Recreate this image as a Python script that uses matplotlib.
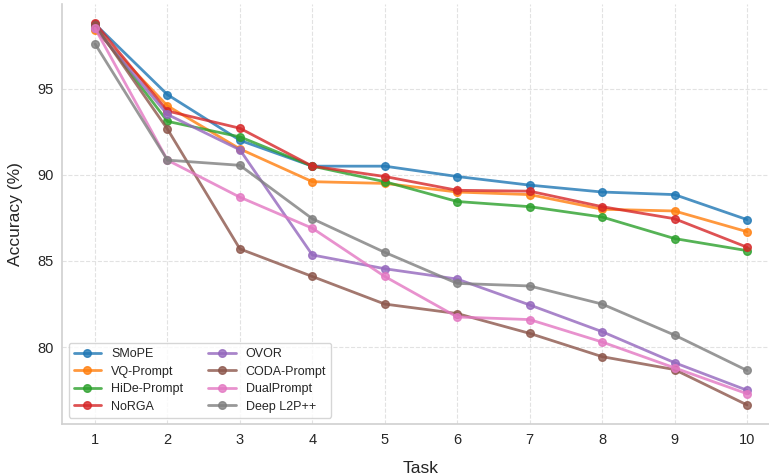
import numpy as np
import matplotlib.pyplot as plt
import seaborn as sns

tasks = list(range(1, 11))

smope = [98.75, 94.65, 92.0, 90.5, 90.5, 89.9, 89.4, 89.0, 88.85, 87.4]
vq_prompt = [98.4, 94.0, 91.5, 89.6, 89.5, 89.0, 88.85, 88.0, 87.9, 86.7]
hide_prompt = [98.6, 93.1, 92.2, 90.5, 89.6, 88.45, 88.15, 87.55, 86.3, 85.6]
norga = [98.8, 93.7, 92.7, 90.5, 89.9, 89.1, 89.05, 88.15, 87.45, 85.8]
ovor = [98.5, 93.5, 91.45, 85.35, 84.55, 83.95, 82.45, 80.9, 79.1, 77.5]
coda_prompt = [98.7, 92.65, 85.7, 84.1, 82.5, 81.95, 80.8, 79.45, 78.7, 76.65]
dualprompt = [98.5, 90.85, 88.7, 86.9, 84.1, 81.75, 81.6, 80.3, 78.8, 77.3]
deep_l2p = [97.6, 90.85, 90.55, 87.45, 85.5, 83.7, 83.55, 82.5, 80.7, 78.65]

names = ["SMoPE", "VQ-Prompt", "HiDe-Prompt", "NoRGA",
         "OVOR", "CODA-Prompt", "DualPrompt", "Deep L2P++"]
series = [smope, vq_prompt, hide_prompt, norga,
          ovor, coda_prompt, dualprompt, deep_l2p]

sns.set_style("whitegrid", {"grid.linestyle": "--", "grid.color": "#e2e2e2"})
plt.rcParams['font.family'] = ['Liberation Sans', 'DejaVu Sans']

fig = plt.figure(figsize=(7.69, 4.75), dpi=100)
# axes run past the right edge, as in the cropped original
ax = fig.add_axes([62.4 / 769, 51 / 475, 717.2 / 769, 420 / 475])
colors = plt.get_cmap("tab10").colors

for i, (name, vals) in enumerate(zip(names, series)):
    ax.plot(tasks, vals, marker="o", markersize=5.5, linewidth=2,
            alpha=0.8, color=colors[i], label=name)

ax.set_xticks(tasks)
ax.set_xlim(0.55, 10.45)
ax.set_xlabel("Task", fontsize=12.5, labelpad=10)
ax.set_ylabel("Accuracy (%)", fontsize=12.5, labelpad=10)
ax.tick_params(axis="both", labelsize=10.5, length=0, pad=6.5,
               colors="#262626")
for s in ["top", "right"]:
    ax.spines[s].set_visible(False)
for s in ["left", "bottom"]:
    ax.spines[s].set_color("#d0d0d0")
    ax.spines[s].set_linewidth(1.2)

ax.legend(ncol=2, loc="lower left", fontsize=9, frameon=True,
          handlelength=2.2, labelspacing=0.45)

plt.savefig("out.png", dpi=100)
